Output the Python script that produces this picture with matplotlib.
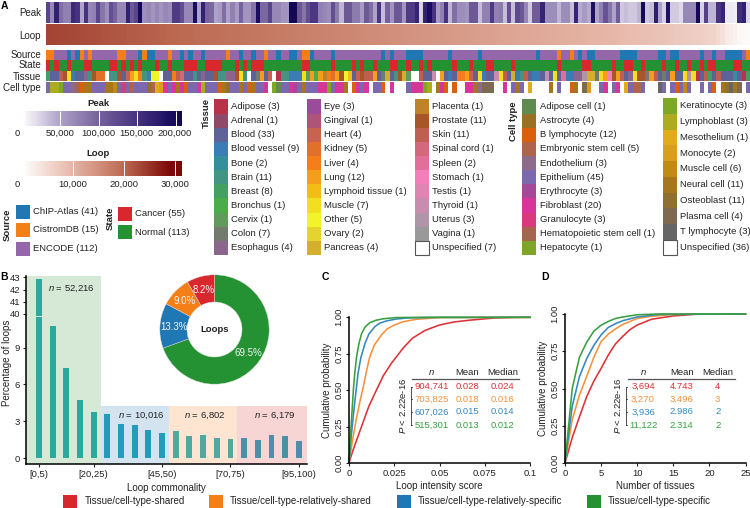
import matplotlib
matplotlib.use('Agg')
import matplotlib.pyplot as plt
import matplotlib.patches as patches
from matplotlib.colors import LinearSegmentedColormap, ListedColormap
import numpy as np

plt.rcParams['font.family'] = ['Liberation Sans', 'DejaVu Sans']
plt.rcParams['mathtext.fontset'] = 'custom'
plt.rcParams['mathtext.it'] = 'Liberation Sans:italic'
plt.rcParams['mathtext.rm'] = 'Liberation Sans'

W, H = 750, 508
FS = 6.8
TXT = '#222222'

# ---------- data: panel A ----------
peak_values = [130, 70, 170, 90, 75, 75, 160, 150, 50, 150,
               70, 75, 130, 85, 65, 120, 100, 70, 70, 170,
               110, 130, 200, 65, 70, 60, 70, 60, 70, 65,
               140, 140, 120, 70, 70, 195, 50, 170, 100, 95,
               50, 55, 90, 50, 75, 55, 100, 60, 60, 85,
               195, 95, 95, 130, 70, 70, 60, 60, 205, 205,
               110, 85, 120, 145, 145, 75, 70, 65, 120, 80,
               40, 110, 110, 80, 80, 55, 110, 90, 50, 145,
               35, 100, 60, 110, 110, 60, 140, 140, 165, 25,
               170, 195, 150, 55, 75, 150, 40, 90, 65, 65,
               60, 110, 110, 35, 75, 75, 140, 75, 80, 35,
               120, 35, 125, 110, 70, 30, 105, 105, 165, 65,
               65, 65, 40, 65, 65, 35, 165, 45, 55, 45,
               190, 50, 75, 115, 85, 50, 105, 30, 35, 30,
               30, 40, 200, 30, 35, 175, 50, 25, 190, 28,
               28, 20, 70, 70, 70, 205, 25, 135, 40, 40,
               150, 165, 12, 12, 10, 155, 170, 20]
loop_values = [23.5, 23.4, 23.3, 23.2, 23.1, 23.0, 22.9, 22.8, 22.7, 22.6, 22.5, 22.4, 22.3, 22.1, 22.0, 21.9,
               21.8, 21.7, 21.6, 21.4, 21.3, 21.2, 21.1, 21.0, 20.8, 20.7, 20.6, 20.5, 20.3, 20.2, 20.1, 20.0,
               19.9, 19.8, 19.7, 19.6, 19.5, 19.4, 19.3, 19.2, 19.1, 19.0, 18.9, 18.8, 18.7, 18.6, 18.5, 18.4,
               18.3, 18.2, 18.1, 18.0, 17.9, 17.8, 17.7, 17.6, 17.5, 17.4, 17.3, 17.2, 17.1, 17.0, 16.9, 16.8,
               16.7, 16.6, 16.5, 16.4, 16.3, 16.2, 16.1, 16.0, 15.9, 15.8, 15.7, 15.6, 15.5, 15.4, 15.3, 15.2,
               15.1, 15.0, 14.9, 14.8, 14.7, 14.6, 14.5, 14.4, 14.3, 14.2, 14.1, 14.0, 13.9, 13.8, 13.7, 13.6,
               13.5, 13.4, 13.3, 13.2, 13.1, 13.0, 12.9, 12.8, 12.7, 12.6, 12.5, 12.4, 12.3, 12.2, 12.1, 12.0,
               11.9, 11.8, 11.7, 11.6, 11.5, 11.4, 11.3, 11.2, 11.1, 11.0, 10.9, 10.8, 10.7, 10.6, 10.5, 10.3,
               10.2, 10.1, 10.0, 9.9, 9.7, 9.6, 9.5, 9.4, 9.2, 9.1, 9.0, 8.8, 8.7, 8.6, 8.4, 8.3, 8.1, 8.0,
               7.8, 7.7, 7.5, 7.3, 7.2, 7.0, 6.8, 6.6, 6.4, 6.2, 6.0, 5.7, 5.0, 4.0, 2.8, 2.4, 2.0, 1.2, 0.8, 0.6]

# runs along the samples; O/P/B = CistromDB/ENCODE/ChIP-Atlas
source_runs = [('O', 2), ('P', 3), ('B', 1), ('P', 1), ('B', 1), ('O', 1), ('P', 1), ('O', 1), ('P', 6), ('O', 2),
               ('P', 3), ('B', 1), ('O', 1), ('B', 2), ('P', 3), ('O', 1), ('P', 2), ('B', 1), ('P', 1), ('B', 1),
               ('P', 2), ('B', 1), ('P', 5), ('O', 1), ('P', 2), ('B', 1), ('P', 2), ('B', 1), ('P', 2), ('O', 1),
               ('P', 2), ('B', 1), ('P', 2), ('B', 2), ('P', 1), ('O', 2), ('B', 1), ('P', 4), ('B', 1), ('P', 11),
               ('B', 1), ('P', 1), ('B', 1), ('P', 3), ('B', 4), ('P', 6), ('B', 1), ('P', 6), ('B', 1), ('P', 13),
               ('B', 1), ('P', 4), ('O', 1), ('P', 2), ('O', 1), ('P', 1), ('B', 1), ('P', 1), ('B', 2), ('P', 6),
               ('B', 4), ('P', 5), ('B', 2), ('P', 1), ('B', 2), ('P', 5), ('B', 1), ('P', 2), ('B', 1), ('P', 2),
               ('B', 4), ('P', 1), ('O', 1)]
# C = cancer, N = normal
state_runs = [('C', 1), ('N', 1), ('C', 1), ('N', 2), ('C', 1), ('N', 3), ('C', 2), ('N', 4), ('C', 2), ('N', 1),
              ('C', 1), ('N', 1), ('C', 1), ('N', 1), ('C', 1), ('N', 3), ('C', 1), ('N', 2), ('C', 1), ('N', 3),
              ('C', 3), ('N', 2), ('C', 4), ('N', 3), ('C', 1), ('N', 1), ('C', 1), ('N', 1), ('C', 3), ('N', 9),
              ('C', 2), ('N', 5), ('C', 1), ('N', 4), ('C', 1), ('N', 1), ('C', 1), ('N', 2), ('C', 1), ('N', 3),
              ('C', 2), ('N', 2), ('C', 1), ('N', 2), ('C', 1), ('N', 1), ('C', 1), ('N', 5), ('C', 1), ('N', 3),
              ('C', 1), ('N', 3), ('C', 2), ('N', 4), ('C', 1), ('N', 10), ('C', 1), ('N', 5), ('C', 2), ('N', 5),
              ('C', 1), ('N', 2), ('C', 2), ('N', 2), ('C', 1), ('N', 4), ('C', 1), ('N', 2), ('C', 1), ('N', 2),
              ('C', 1), ('N', 2), ('C', 1), ('N', 1), ('C', 2), ('N', 4), ('C', 2), ('N', 2)]
# one letter per sample, ten to a block, see tissue_codes / cell_codes
tissue_row = ('gccyxsdcck fxoo_ffxcn qspfdtt_cc pyzccfckcc xffkkxsf_c jqcn_affdd dsiqhqwpoq xtrcnxyyqc '
              'jvcfxvi__y ccD_qcdcpp qncsdccDsy cvdfycddcD cscAddkkEv vjsqBxqyck sxxjqycjcq ccsEsacygc '
              'ycccecag').replace(' ', '')
cell_row = ('fmmlffejcq qfffqqpfif dfffrdnohf hqhcffhmff fcqrffqfcq ffh_laffhg fqfffhhlfh hq_chfh_ff '
            'c_h___fhhh lm_qhc_c__ hhqesss__h _fqf_n____ q_f__cq_so __fh_fh_nf ddf___tf_f cfpf__f_fc '
            '_qrtqs_f').replace(' ', '')

tissue_names = ['Adipose (3)', 'Adrenal (1)', 'Blood (33)', 'Blood vessel (9)', 'Bone (2)', 'Brain (11)',
                'Breast (8)', 'Bronchus (1)', 'Cervix (1)', 'Colon (7)', 'Esophagus (4)', 'Eye (3)',
                'Gingival (1)', 'Heart (4)', 'Kidney (5)', 'Liver (4)', 'Lung (12)', 'Lymphoid tissue (1)',
                'Muscle (7)', 'Other (5)', 'Ovary (2)', 'Pancreas (4)', 'Placenta (1)', 'Prostate (11)',
                'Skin (11)', 'Spinal cord (1)', 'Spleen (2)', 'Stomach (1)', 'Testis (1)', 'Thyroid (1)',
                'Uterus (3)', 'Vagina (1)', 'Unspecified (7)']
tissue_colors = ['#B8324A', '#8F4A6A', '#5F6296', '#3A7DB5', '#338F9B', '#429483', '#44A060', '#4BAC4A',
                 '#619B5C', '#737B6E', '#8A668F', '#9A4C9A', '#AE5478', '#C8634F', '#E2702B', '#F47E1A',
                 '#F59E1E', '#F5BC17', '#F3DF20', '#F3F32A', '#E5D42F', '#D4AE2D', '#BE8228', '#A65628',
                 '#BE5F50', '#D2687A', '#E26F9A', '#F27EBA', '#DE85B2', '#C88CAE', '#B095A6', '#999999',
                 '#FFFFFF']
tissue_codes = 'abcdefghijklmnopqrstuvwxyzABCDEF_'

cell_names = ['Adipose cell (1)', 'Astrocyte (4)', 'B lymphocyte (12)', 'Embryonic stem cell (5)',
              'Endothelium (3)', 'Epithelium (45)', 'Erythrocyte (3)', 'Fibroblast (20)', 'Granulocyte (3)',
              'Hematopoietic stem cell (1)', 'Hepatocyte (1)', 'Keratinocyte (3)', 'Lymphoblast (3)',
              'Mesothelium (1)', 'Monocyte (2)', 'Muscle cell (6)', 'Neural cell (11)', 'Osteoblast (11)',
              'Plasma cell (4)', 'T lymphocyte (3)', 'Unspecified (36)']
cell_colors = ['#5F8A50', '#9A7025', '#D9600F', '#B0644C', '#8F6A8A', '#7B68AE', '#A6489A', '#D8359B',
               '#D93A7E', '#A6654F', '#7FA42A', '#7DA826', '#ADAB1E', '#E0AC1A', '#D99E1B', '#BF8B14',
               '#A6761D', '#8F7032', '#7D6A50', '#666666', '#FFFFFF']
cell_codes = 'abcdefghijklmnopqrst_'

source_names = ['ChIP-Atlas (41)', 'CistromDB (15)', 'ENCODE (112)']
source_colors = ['#1F78B4', '#F57F17', '#9467AB']
source_codes = 'BOP'
state_names = ['Cancer (55)', 'Normal (113)']
state_colors = ['#D9272E', '#249233']
state_codes = 'CN'

peak_ticks = [50000, 100000, 150000, 200000]
peak_tick_labels = ['50,000', '100,000', '150,000', '200,000']
loop_ticks = [10000, 20000, 30000]
loop_tick_labels = ['10,000', '20,000', '30,000']

# ---------- data: panel B ----------
commonality_labels = ['[0,5)', '[20,25)', '[45,50)', '[70,75)', '[95,100)']
commonality_label_bins = [0, 4, 9, 14, 19]
percent_loops = [42.9, 10.75, 7.3, 4.7, 3.75, 3.6, 2.75, 2.7, 2.25, 2.05,
                 2.2, 1.8, 1.85, 1.6, 1.55, 1.65, 1.5, 1.85, 1.8, 1.35]
group_n = ['52,216', '10,016', '6,802', '6,179']
donut_share = [69.4, 13.3, 9.0, 8.2]

group_names = ['Tissue/cell-type-shared', 'Tissue/cell-type-relatively-shared',
               'Tissue/cell-type-relatively-specific', 'Tissue/cell-type-specific']
group_colors = ['#D9272E', '#F57F17', '#1F78B4', '#249233']
line_colors = ['#DC3237', '#F7923A', '#3488BE', '#38A03F']

# ---------- data: panel C ----------
score_x = [
    [0, 0.002, 0.004, 0.0075, 0.011, 0.0143, 0.019, 0.0234, 0.03, 0.035, 0.042, 0.05, 0.058, 0.0665, 0.08, 0.09, 0.1],
    [0, 0.002, 0.004, 0.006, 0.008, 0.01, 0.0115, 0.014, 0.018, 0.021, 0.025, 0.03, 0.037, 0.05, 0.1],
    [0, 0.001, 0.002, 0.0033, 0.005, 0.0065, 0.0088, 0.011, 0.0143, 0.017, 0.0207, 0.026, 0.032, 0.045, 0.1],
    [0, 0.0005, 0.001, 0.0024, 0.0033, 0.0042, 0.0055, 0.007, 0.009, 0.0115, 0.015, 0.019, 0.026, 0.04, 0.1],
]
score_cdf = [
    [0, 0.08, 0.15, 0.27, 0.39, 0.478, 0.6, 0.684, 0.79, 0.856, 0.91, 0.947, 0.968, 0.98, 0.995, 0.999, 1.0],
    [0, 0.16, 0.3, 0.42, 0.53, 0.65, 0.73, 0.81, 0.88, 0.92, 0.947, 0.97, 0.986, 0.998, 1.0],
    [0, 0.15, 0.28, 0.43, 0.615, 0.72, 0.82, 0.885, 0.936, 0.96, 0.975, 0.988, 0.995, 0.999, 1.0],
    [0, 0.1, 0.22, 0.5, 0.63, 0.73, 0.82, 0.89, 0.935, 0.963, 0.98, 0.99, 0.998, 1.0, 1.0],
]
score_table = [['904,741', '0.028', '0.024'], ['703,825', '0.018', '0.016'],
               ['607,026', '0.015', '0.014'], ['515,301', '0.013', '0.012']]

# ---------- data: panel D ----------
tissues_x = [
    [0, 1, 2, 3, 4, 5, 6, 7, 8, 9, 10, 12, 15, 18, 20, 25],
    [0, 1, 2, 3, 4, 5, 6, 7, 8, 10, 12, 15, 18, 25],
    [0, 1, 2, 3, 4, 5, 6, 7, 8, 10, 13, 25],
    [0, 1, 2, 3, 4, 5, 6, 7, 8, 10, 13, 25],
]
tissues_cdf = [
    [0, 0.17, 0.31, 0.445, 0.55, 0.635, 0.725, 0.8, 0.85, 0.895, 0.926, 0.965, 0.987, 0.998, 1.0, 1.0],
    [0, 0.29, 0.456, 0.58, 0.71, 0.815, 0.865, 0.9, 0.93, 0.97, 0.985, 0.997, 1.0, 1.0],
    [0, 0.38, 0.58, 0.7, 0.79, 0.86, 0.91, 0.935, 0.955, 0.98, 0.997, 1.0],
    [0, 0.5, 0.71, 0.81, 0.885, 0.925, 0.95, 0.97, 0.98, 0.995, 1.0, 1.0],
]
tissues_table = [['3,694', '4.743', '4'], ['3,270', '3.496', '3'],
                 ['3,936', '2.986', '2'], ['11,122', '2.314', '2']]

fig = plt.figure(figsize=(W / 100, H / 100), dpi=100, facecolor='white')


def px_axes(x0, y0, x1, y1, **kw):
    # axes from pixel box, y measured from the top of the image
    return fig.add_axes([x0 / W, 1 - y1 / H, (x1 - x0) / W, (y1 - y0) / H], **kw)


def put(x, y, s, ha='left', va='center', size=FS, color=TXT, **kw):
    fig.text(x / W, 1 - y / H, s, ha=ha, va=va, fontsize=size, color=color, **kw)


def swatch(x, y, w, h, color):
    edge = '#555555' if color == '#FFFFFF' else color
    fig.patches.append(patches.Rectangle((x / W, 1 - (y + h) / H), w / W, h / H, facecolor=color,
                                         edgecolor=edge, linewidth=0.8 if color == '#FFFFFF' else 0,
                                         transform=fig.transFigure, figure=fig))


# ---------- panel A heatmap ----------
peak_cmap = LinearSegmentedColormap.from_list(
    'peak', [(0, '#FFFFFF'), (50 / 210, '#ADA1C8'), (100 / 210, '#76629C'), (150 / 210, '#46327F'),
             (200 / 210, '#160A5C'), (1, '#130850')])
loop_cmap = LinearSegmentedColormap.from_list(
    'loop', [(0, '#FFFFFF'), (10 / 31.5, '#E6B5A6'), (20 / 31.5, '#BC6A52'), (29 / 31.5, '#7E0808'),
             (1, '#7E0808')])

HX0, HX1 = 45.7, 749.6
ax = px_axes(HX0, 2, HX1, 23)
ax.imshow([[v * 1000 for v in peak_values]], aspect='auto', cmap=peak_cmap, vmin=0, vmax=210000,
          interpolation='nearest')
ax.axis('off')
ax = px_axes(HX0, 24.5, HX1, 45)
ax.imshow([[v * 1000 for v in loop_values]], aspect='auto', cmap=loop_cmap, vmin=0, vmax=31500,
          interpolation='nearest')
ax.axis('off')

source_row = ''.join(c * n for c, n in source_runs)
state_row = ''.join(c * n for c, n in state_runs)
annot_rows = [(source_row, source_codes, source_colors, 49.5, 60.3),
              (state_row, state_codes, state_colors, 60.3, 71),
              (tissue_row, tissue_codes, tissue_colors, 71, 81.5),
              (cell_row, cell_codes, cell_colors, 81.5, 93)]
for row, codes, colors, y0, y1 in annot_rows:
    ax = px_axes(HX0, y0, HX1, y1)
    idx = [codes.index(c) for c in row]
    ax.imshow([idx], aspect='auto', cmap=ListedColormap(colors), vmin=-0.5, vmax=len(colors) - 0.5,
              interpolation='nearest')
    ax.axis('off')

for y, s in zip([12.5, 36, 54.7, 65.5, 77, 87.7], ['Peak', 'Loop', 'Source', 'State', 'Tissue', 'Cell type']):
    put(41, y, s, ha='right', size=7.0)

# ---------- colour bars ----------
put(98, 103.3, 'Peak', ha='center', fontweight='bold')
ax = px_axes(25, 111, 181.7, 126)
ax.imshow(np.linspace(4400, 208000, 256)[None, :], aspect='auto', cmap=peak_cmap, vmin=0, vmax=210000,
          extent=[4400, 208000, 0, 1])
ax.vlines(peak_ticks, 0, 1, color='white', lw=0.7)
ax.axis('off')
for x, s in zip([60, 98.3, 136.7, 175], peak_tick_labels):
    put(x, 133.3, s, ha='center')
put(17.3, 133.3, '0', ha='center')

put(98, 153.3, 'Loop', ha='center', fontweight='bold')
ax = px_axes(25, 161, 181.7, 176)
ax.imshow(np.linspace(650, 31300, 256)[None, :], aspect='auto', cmap=loop_cmap, vmin=0, vmax=31500,
          extent=[650, 31300, 0, 1])
ax.vlines(loop_ticks, 0, 1, color='white', lw=0.7)
ax.axis('off')
for x, s in zip([72.7, 123.7, 175], loop_tick_labels):
    put(x, 184.3, s, ha='center')
put(17.3, 184.3, '0', ha='center')

# ---------- legends ----------
put(7.3, 225, 'Source', ha='center', rotation=90, fontweight='bold')
for y, s, c in zip([205, 223, 241.7], source_names, source_colors):
    swatch(16, y, 14, 14, c)
    put(33.3, y + 7, s)
put(110, 218, 'State', ha='center', rotation=90, fontweight='bold')
for y, s, c in zip([206.7, 225], state_names, state_colors):
    swatch(117.7, y, 14, 14, c)
    put(135.3, y + 7, s)

put(206, 113, 'Tissue', ha='center', rotation=90, fontweight='bold')
for col, x in enumerate([214, 307, 415]):
    for k in range(11):
        i = col * 11 + k
        y = 99.5 + k * 14.13
        swatch(x, y, 13.7, 14.13, tissue_colors[i])
        put(x + 17, y + 7, tissue_names[i])

put(513, 121, 'Cell type', ha='center', rotation=90, fontweight='bold')
for k in range(11):
    y = 99.5 + k * 14.13
    swatch(522, y, 14, 14.13, cell_colors[k])
    put(539.5, y + 7, cell_names[k])
for k in range(10):
    y = 98.2 + k * 15.72
    swatch(663, y, 14, 15.72, cell_colors[11 + k])
    put(680.5, y + 7.8, cell_names[11 + k])

# ---------- panel B ----------
xs = np.arange(len(percent_loops))
bar_colors = ['#2AA99C'] * 5 + ['#1F9DBA'] * 5 + ['#51A8A0'] * 5 + ['#4A90A8'] * 5
X0, X1 = 25.7, 307
xlim = ((X0 - 39) / 13.67, (X1 - 39) / 13.67)
BY0 = 458.0
BPX = 36.8 / 3

bg = px_axes(X0, 276, X1, 464)
bg.set_xlim(*xlim)
bg.set_ylim(0, 1)
bg.axis('off')
for (a, b, top, c) in [(-0.97, 4.5, 1.0, '#D5E9D6'), (4.5, 9.5, 58.3 / 188, '#D3E3EF'),
                       (9.5, 14.5, 58.3 / 188, '#FDE5D2'), (14.5, 19.6, 58.3 / 188, '#F8D5D5')]:
    bg.add_patch(patches.Rectangle((a, 0), b - a, top, facecolor=c, edgecolor='none'))

low = px_axes(X0, 316.6, X1, 464)
low.patch.set_alpha(0)
low.bar(xs, percent_loops, width=0.42, color=bar_colors, clip_on=True)
low.set_xlim(*xlim)
low.set_ylim(-6 / BPX, (BY0 - 316.6) / BPX)
low.set_yticks([0, 3, 6, 9])
low.set_xticks(commonality_label_bins)
low.set_xticklabels(commonality_labels)
low.set_xlabel('Loop commonality', fontsize=FS + 0.2, color=TXT, labelpad=3.5)
low.spines[['top', 'right']].set_visible(False)
low.spines[['left', 'bottom']].set_linewidth(1.1)
low.tick_params(labelsize=FS, length=2.5, width=0.8, pad=1.5, colors=TXT)

UPX = 12.23
up = px_axes(X0, 276, X1, 315.6)
up.patch.set_alpha(0)
up.bar(xs, percent_loops, width=0.42, color=bar_colors)
up.set_xlim(*xlim)
up.set_ylim(40 - (315.6 - 314) / UPX, 43 + (277.3 - 276) / UPX)
up.set_yticks([40, 41, 42, 43])
up.set_xticks([])
up.spines[['top', 'right', 'bottom']].set_visible(False)
up.spines['left'].set_linewidth(1.1)
up.tick_params(labelsize=FS, length=2.5, width=0.8, pad=1.5, colors=TXT)

put(7.3, 363, 'Percentage of loops', ha='center', rotation=90, size=FS + 0.2)
for x, y, n in zip([71, 141, 205, 274.5], [288.5, 416, 416, 416], group_n):
    put(x, y, '$\\mathit{n}$ = ' + n, ha='center')

ax = px_axes(214.5 - 54.7, 329.5 - 54.7, 214.5 + 54.7, 329.5 + 54.7)
wedges, _, autotexts = ax.pie(donut_share, startangle=90, counterclock=False,
                              colors=[group_colors[3], group_colors[2], group_colors[1], group_colors[0]],
                              radius=1, autopct='%.1f%%', pctdistance=0.75,
                              wedgeprops=dict(width=0.497, edgecolor='#DDDDDD', linewidth=0.3),
                              textprops=dict(color='#F4F4F4', fontsize=FS + 0.2))
ax.set_xlim(-1, 1)
ax.set_ylim(-1, 1)
put(214.5, 329.5, 'Loops', ha='center', fontweight='bold')


# ---------- panels C and D ----------
def cdf_panel(x0, x1, y0, y1, xs_list, ys_list, xmax, xticks, xlabels, xlabel, table, cols):
    ax = px_axes(x0, y1, x1, y0)
    for x, y, c in zip(xs_list, ys_list, line_colors):
        ax.plot(x, y, color=c, lw=1.15, clip_on=False, solid_joinstyle='round')
    ax.set_xlim(0, xmax)
    ax.set_ylim(0, 1)
    ax.set_xticks(xticks)
    ax.set_xticklabels(xlabels)
    ax.set_yticks([0, 0.25, 0.5, 0.75, 1])
    ax.set_yticklabels(['0.00', '0.25', '0.50', '0.75', '1.00'], rotation=90, va='center')
    ax.set_xlabel(xlabel, fontsize=FS + 0.2, color=TXT, labelpad=2.5)
    ax.set_ylabel('Cumulative probability', fontsize=FS + 0.2, color=TXT, labelpad=1.5)
    ax.spines[['top', 'right']].set_visible(False)
    ax.spines[['left', 'bottom']].set_linewidth(1.1)
    ax.tick_params(labelsize=FS, length=2.5, width=0.8, pad=1.5, colors=TXT)
    nx, mx, medx, lx0, lx1, bx, px_ = cols
    put(nx, 372.7, '$\\mathit{n}$', ha='center')
    put(mx, 372.7, 'Mean', ha='center')
    put(medx, 372.7, 'Median', ha='center')
    fig.add_artist(plt.Line2D([lx0 / W, lx1 / W], [1 - 379 / H] * 2, color='#555555', lw=0.9))
    rows = [386.7, 399.3, 412, 425]
    for y, vals, c in zip(rows, table, line_colors):
        put(nx, y, vals[0], ha='center', color=c)
        put(mx, y, vals[1], ha='center', color=c)
        put(medx, y, vals[2], ha='center', color=c)
        fig.add_artist(plt.Line2D([bx / W, (bx + 1.7) / W], [1 - y / H] * 2, color='#333333', lw=0.6))
    fig.add_artist(plt.Line2D([bx / W, bx / W], [1 - rows[0] / H, 1 - rows[-1] / H], color='#333333', lw=0.6))
    put(px_, 405.7, '$\\mathit{P}$ < 2.22e-16', ha='center', rotation=90)


cdf_panel(349, 530, 463, 317.3, score_x, score_cdf, 0.1, [0, 0.025, 0.05, 0.075, 0.1],
          ['0', '0.025', '0.05', '0.075', '0.1'], 'Loop intensity score', score_table,
          (431.5, 467, 502.7, 412, 519, 410.7, 402.7))
cdf_panel(565, 745.5, 463, 314, tissues_x, tissues_cdf, 25, [0, 5, 10, 15, 20, 25],
          ['0', '5', '10', '15', '20', '25'], 'Number of tissues', tissues_table,
          (643, 681.7, 717.7, 628, 735, 625.7, 618))

# ---------- bottom legend ----------
for x, lx, s, c in zip([63.3, 209.3, 396.7, 586.7], [85, 230, 417.7, 607.7], group_names, group_colors):
    swatch(x, 495, 14, 13, c)
    put(lx, 501.5, s, size=FS + 0.2)

# ---------- panel letters ----------
for x, y, s in zip([0.5, 0.5, 322, 541.5], [6, 277, 277, 277], ['A', 'B', 'C', 'D']):
    put(x, y, s, fontweight='bold', size=7.5, color='black')

fig.savefig('out.png', dpi=100)
